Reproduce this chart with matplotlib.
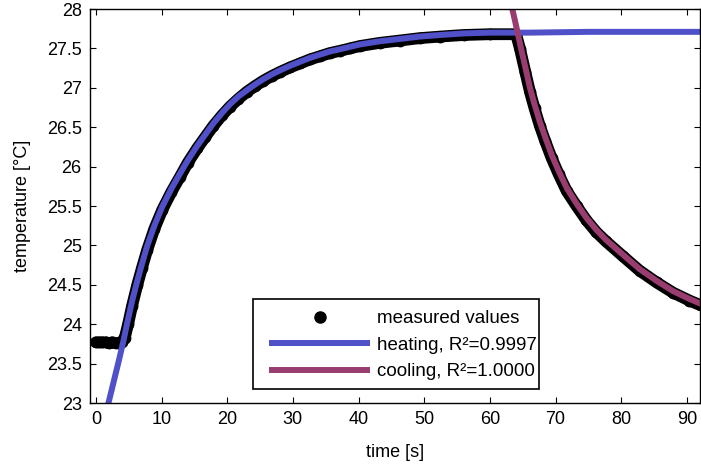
import numpy as np
import matplotlib
matplotlib.use('Agg')
import matplotlib.pyplot as plt
from matplotlib.lines import Line2D
from matplotlib.patches import Rectangle
from matplotlib.ticker import FormatStrFormatter

plt.rcParams['font.family'] = ['Liberation Sans', 'DejaVu Sans']

BLUE = '#5050c8'
PURPLE = '#993d70'

meas_t = [0, 0.5, 1, 1.5, 2, 2.5, 3, 3.5, 3.9, 4.4, 4.9, 5.5, 6.3, 7.0, 7.8, 8.9, 10.1,
          11.5, 12.8, 14.0, 15.4, 16.6, 17.9, 19.2, 20.4, 21.7, 23.0, 24.2, 25.5, 26.8,
          28.0, 29.6, 31.1, 32.6, 34.1, 35.6, 37.2, 38.7, 40.2, 43.2, 46.3, 49.3, 52.4,
          56, 60, 64.0,
          64.6, 65.4, 66.1, 66.8, 67.6, 68.4, 69.4, 70.5, 71.7, 73.2, 74.7, 76.2, 77.7,
          80.3, 82.8, 85.4, 87.9, 90.4, 92.1]
meas_T = [23.77, 23.77, 23.77, 23.77, 23.76, 23.77, 23.76, 23.76, 23.77, 23.83, 24.00,
          24.23, 24.50, 24.71, 24.94, 25.21, 25.45, 25.68, 25.87, 26.05, 26.23, 26.37,
          26.52, 26.65, 26.76, 26.86, 26.95, 27.02, 27.09, 27.15, 27.20, 27.26, 27.31,
          27.36, 27.40, 27.44, 27.47, 27.50, 27.53, 27.57, 27.60, 27.63, 27.65, 27.67,
          27.68, 27.68,
          27.49, 27.20, 26.95, 26.74, 26.52, 26.33, 26.11, 25.90, 25.69, 25.50, 25.32,
          25.17, 25.05, 24.86, 24.68, 24.53, 24.40, 24.30, 24.24]

# heating fit
heat_t = [1.5, 2.5, 3.5, 4.2, 4.7, 5.5, 6.3, 7.0, 7.8, 8.9, 10.1, 11.5, 12.8, 14.0, 15.4,
          16.6, 17.9, 19.2, 20.4, 21.7, 23.0, 24.2, 25.5, 26.8, 28.0, 29.6, 31.1, 32.6,
          34.1, 35.6, 37.2, 38.7, 40.2, 43.2, 46.3, 49.3, 52.4, 56, 60, 66, 75, 85, 92]
heat_T = [22.86, 23.20, 23.54, 23.79, 23.99, 24.29, 24.55, 24.76, 24.99, 25.25, 25.49,
          25.72, 25.91, 26.08, 26.26, 26.40, 26.55, 26.68, 26.79, 26.89, 26.97, 27.04,
          27.11, 27.17, 27.22, 27.28, 27.33, 27.38, 27.42, 27.46, 27.49, 27.52, 27.55,
          27.59, 27.62, 27.65, 27.67, 27.69, 27.70, 27.70, 27.71, 27.71, 27.71]

# cooling fit
cool_t = [63.0, 63.3, 63.8, 64.8, 65.4, 66.1, 66.8, 67.6, 68.4, 69.4, 70.5, 71.7, 73.2,
          74.7, 76.2, 77.7, 80.3, 82.8, 85.4, 87.9, 90.4, 92.1]
cool_T = [28.15, 28.04, 27.86, 27.48, 27.26, 27.00, 26.79, 26.57, 26.38, 26.15, 25.94,
          25.73, 25.53, 25.35, 25.20, 25.07, 24.88, 24.70, 24.55, 24.42, 24.32, 24.26]

labels = ['measured values', 'heating, R²=0.9997', 'cooling, R²=1.0000']

W, H = 701, 469
fig = plt.figure(figsize=(W/100, H/100), dpi=100)
ax = fig.add_axes([90/W, 1 - 403/H, 610/W, 394/H])

# dense measured dots look like a thick band
ax.plot(meas_t, meas_T, '-', color='k', lw=8.5, solid_capstyle='round', solid_joinstyle='round')
ax.plot(meas_t, meas_T, 'o', color='k', ms=8.5, mew=0)
ax.plot(heat_t, heat_T, '-', color=BLUE, lw=4.3)
ax.plot(cool_t, cool_T, '-', color=PURPLE, lw=4.3)

ax.set_xlim(-0.9, 92)
ax.set_ylim(23, 28)
ax.set_xticks(np.arange(0, 91, 10))
ax.set_yticks(np.arange(23, 28.01, 0.5))
ax.yaxis.set_major_formatter(FormatStrFormatter('%g'))
ax.tick_params(direction='in', top=True, right=True, length=4.5, width=0.8,
               labelsize=13, pad=6)
for s in ax.spines.values():
    s.set_linewidth(1.0)

ax.set_xlabel('time [s]', fontsize=13, labelpad=11)
ax.set_ylabel('temperature [°C]', fontsize=13, labelpad=11)

# legend: box drawn separately, entries placed inside it
box = Rectangle((253/W, 1 - 389/H), 286/W, 90/H, transform=fig.transFigure,
                facecolor='white', edgecolor='k', lw=1.2, zorder=4)
ax.add_patch(box)
handles = [Line2D([], [], marker='o', color='k', ls='none', ms=8),
           Line2D([], [], color=BLUE, lw=4.3),
           Line2D([], [], color=PURPLE, lw=4.3)]
leg = ax.legend(handles, labels, loc='upper left',
                bbox_to_anchor=(272/W, 1 - 310/H), bbox_transform=fig.transFigure,
                fontsize=13.5, frameon=False, handlelength=5.07, handletextpad=0.53,
                borderpad=0, labelspacing=0.5, borderaxespad=0)
leg.set_zorder(5)

fig.savefig('out.png', dpi=100)
